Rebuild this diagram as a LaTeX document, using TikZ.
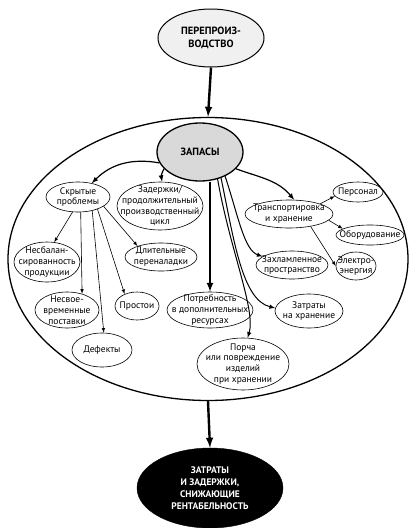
\documentclass[tikz,border=0pt]{standalone}
\usepackage{fontspec}
\setmainfont{PT Sans}
\usetikzlibrary{shapes.geometric}

\tikzset{
  pill/.style={ellipse, draw, line width=0.6pt, inner sep=-20pt, align=center,
    font=\fontsize{9.5}{10.8}\selectfont},
  head/.style={ellipse, draw, inner sep=-20pt, align=center,
    font=\fontsize{10.5}{12.5}\selectfont\bfseries},
  link/.style={->, line width=0.6pt},
  bigarrow/.style={->, line width=2.4pt},
}

\begin{document}
\begin{tikzpicture}[x=1pt, y=-1pt, >=latex]
    \useasboundingbox (0,0) rectangle (409,528);

    % top and bottom
    \node[head, fill=gray!12, line width=1pt, minimum width=106pt, minimum height=58pt] (over) at (211,38) {ПЕРЕПРОИЗ-\\ВОДСТВО};
    \node[ellipse, draw, line width=1.3pt, minimum width=400pt, minimum height=283pt] (stock) at (208,259) {};
    \node[head, fill=black, text=white, minimum width=146pt, minimum height=80pt, font=\fontsize{9.5}{12}\selectfont\bfseries] (loss) at (210,488) {ЗАТРАТЫ\\И ЗАДЕРЖКИ,\\СНИЖАЮЩИЕ\\РЕНТАБЕЛЬНОСТЬ};

    \draw[bigarrow] (over.south) -- (stock.north);
    \draw[bigarrow] (stock.south) -- (loss.north);

    %%%%%%%%%%%%%%%%%%%%%%%%%%%%%%%%%%%%

    \node[head, fill=gray!30, line width=1.3pt, minimum width=86pt, minimum height=58pt] (zap) at (200,152) {ЗАПАСЫ};

    \node[pill, minimum width=64pt, minimum height=30pt] (hid) at (78,197) {Скрытые\\проблемы};
    \node[pill, minimum width=86pt, minimum height=48pt] (delay) at (160,206) {Задержки/\\продолжительный\\производственный\\цикл};
    \node[pill, minimum width=88pt, minimum height=28pt] (trans) at (289,214) {Транспортировка\\и хранение};
    \node[pill, minimum width=50pt, minimum height=20pt] (pers) at (358,192) {Персонал};
    \node[pill, minimum width=68pt, minimum height=20pt] (equip) at (370,235) {Оборудование};
    \node[pill, minimum width=72pt, minimum height=28pt] (clutter) at (292,265) {Захламленное\\пространство};
    \node[pill, minimum width=40pt, minimum height=28pt] (power) at (356,266) {Электро-\\энергия};
    \node[pill, minimum width=66pt, minimum height=40pt] (unbal) at (47,262) {Несбалан-\\сированность\\продукции};
    \node[pill, minimum width=72pt, minimum height=28pt] (setup) at (161,257) {Длительные\\переналадки};
    \node[pill, minimum width=64pt, minimum height=36pt] (late) at (67,310) {Несвое-\\временные\\поставки};
    \node[pill, minimum width=44pt, minimum height=28pt] (idle) at (137,306) {Простои};
    \node[pill, minimum width=86pt, minimum height=36pt] (need) at (210,310) {Потребность\\в дополнительных\\ресурсах};
    \node[pill, minimum width=68pt, minimum height=34pt] (store) at (309,311) {Затраты\\на хранение};
    \node[pill, minimum width=60pt, minimum height=34pt] (defect) at (102,350) {Дефекты};
    \node[pill, minimum width=92pt, minimum height=52pt] (spoil) at (243,364) {Порча\\или повреждение\\изделий\\при хранении};

    %%%%%%%%%%%%%%%%%%%%%%%%%%%%%%%%%%%%

    \draw[->, line width=1.2pt] (zap.195) to[out=170, in=45] (hid.45);
    \draw[->, line width=1.2pt] (zap.205) to[out=240, in=100] (delay.85);
    \draw[->, line width=1.2pt] (zap.-25) to[out=-20, in=130] (trans.70);
    \draw[->, line width=2pt] (zap.south -| need.north) -- (need.north);

    \draw[->, line width=1pt] (zap.-44) .. controls (238,215) and (244,250) .. (clutter.164);
    \draw[->, line width=1pt] (zap.-51) .. controls (234,240) and (242,300) .. (store.175);
    \draw[->, line width=1pt] (zap.-57) .. controls (230,250) and (256,310) .. (spoil.80);

    \draw[link] (hid.250) -- (unbal.70);
    \draw[link] (hid.280) -- (late.47);
    \draw[link] (hid.-44) -- (defect.84);
    \draw[link] (hid.-32) -- (idle.136);
    \draw[link] (hid.-20) -- (setup.155);

    \draw[link] (trans.18) -- (pers.190);
    \draw[link] (trans.-9) -- (equip.167);
    \draw[link] (trans.-30) -- (power.180);

\end{tikzpicture}
\end{document}
